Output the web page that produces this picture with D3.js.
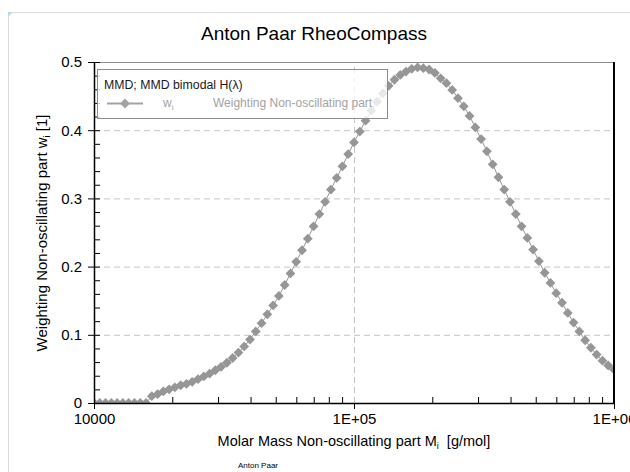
<!DOCTYPE html>
<html>
<head>
<meta charset="utf-8">
<script src="https://cdn.jsdelivr.net/npm/d3@7"></script>
<style>
  body { margin: 0; background: #fff; }
  svg { display: block; font-family: "Liberation Sans", Arial, sans-serif; }
  .axis path, .axis line { stroke: #000; }
  .axis text { font-size: 15px; fill: #000; }
  .grid line { stroke: #c4c4c4; stroke-dasharray: 6,4; }
  .grid path { display: none; }
</style>
</head>
<body>
<svg id="chart" width="630" height="472"></svg>
<script>
// molar mass M_i [g/mol]
const molarMass = [
  10000, 10525, 11078, 11659, 12271, 12915, 13594, 14307, 15058, 15849,
  16681, 17557, 18478, 19448, 20469, 21544, 22675, 23865, 25119, 26437,
  27826, 29286, 30824, 32442, 34145, 35938, 37824, 39811, 41900, 44100,
  46416, 48853, 51417, 54117, 56958, 59948, 63096, 66408, 69894, 73564,
  77426, 81491, 85770, 90273, 95012,
  100000, 105250, 110780, 116590, 122710, 129150, 135940, 143070, 150580, 158490,
  166810, 175570, 184780, 194480, 204690, 215440, 226750, 238650, 251190, 264370,
  278260, 292860, 308240, 324420, 341450, 359380, 378240, 398110, 419000, 441000,
  464160, 488530, 514170, 541170, 569580, 599480, 630960, 664080, 698940, 735640,
  774260, 814910, 857700, 902730, 950120,
  1000000
];
// weighting w_i [1]
const weighting = [
  0, 0, 0, 0, 0, 0, 0, 0, 0, 0,
  0.010, 0.013, 0.017, 0.020, 0.023, 0.026, 0.028, 0.031, 0.035, 0.039,
  0.043, 0.048, 0.053, 0.059, 0.066, 0.074, 0.083, 0.093, 0.105, 0.117,
  0.130, 0.143, 0.157, 0.173, 0.190, 0.207, 0.224, 0.241, 0.259, 0.277,
  0.295, 0.313, 0.330, 0.347, 0.365, 0.382, 0.398, 0.414, 0.429, 0.442,
  0.454, 0.465, 0.474, 0.481, 0.486, 0.490, 0.492, 0.491, 0.489, 0.484,
  0.476, 0.469, 0.459, 0.447, 0.435, 0.421, 0.404, 0.387, 0.369, 0.350,
  0.331, 0.313, 0.295, 0.277, 0.259, 0.242, 0.225, 0.208, 0.191, 0.176,
  0.161, 0.147, 0.132, 0.118, 0.105, 0.092, 0.081, 0.071, 0.062, 0.055,
  0.049
];

const xMajorTicks = [1e4, 1e5, 1e6];
const xTickLabels = ["10000", "1E+05", "1E+06"];
const xMinorTicks = [2e4, 3e4, 4e4, 5e4, 6e4, 7e4, 8e4, 9e4, 2e5, 3e5, 4e5, 5e5, 6e5, 7e5, 8e5, 9e5];
const yMajorTicks = [0, 0.1, 0.2, 0.3, 0.4, 0.5];
const yTickLabels = ["0", "0.1", "0.2", "0.3", "0.4", "0.5"];
const yMinorTicks = d3.range(0, 0.501, 0.02);

const margin = { top: 62, right: 16, bottom: 69, left: 94 };
const svg = d3.select("#chart");
const width = svg.attr("width") - margin.left - margin.right;
const height = svg.attr("height") - margin.top - margin.bottom;

const data = molarMass.map((m, i) => ({ m, w: weighting[i] }));

const xScale = d3.scaleLog().domain([1e4, 1e6]).range([0, width]);
const yScale = d3.scaleLinear().domain([0, 0.5]).range([height, 0]);

const markerColor = "#969696";
const legendColor = "#a3a3a3";

// page frame
svg.append("path")
  .attr("d", "M8.5,472V12.5H630")
  .attr("fill", "none")
  .attr("stroke", "#dcdcdc");
svg.append("path").attr("d", "M8,12h5l-5,5z").attr("fill", "#bcd9ea");

svg.append("text")
  .attr("x", 314).attr("y", 40)
  .attr("text-anchor", "middle")
  .attr("font-size", 19)
  .text("Anton Paar RheoCompass");

const g = svg.append("g").attr("transform", `translate(${margin.left},${margin.top})`);

g.append("clipPath").attr("id", "plot-clip")
  .append("rect").attr("width", width).attr("height", height);

// grid
g.append("g").attr("class", "grid")
  .call(d3.axisLeft(yScale).tickValues([0.1, 0.2, 0.3, 0.4]).tickSize(-width).tickFormat(""));
g.append("g").attr("class", "grid")
  .attr("transform", `translate(0,${height})`)
  .call(d3.axisBottom(xScale).tickValues([1e5]).tickSize(-height).tickFormat(""));

// top border
g.append("line").attr("x1", 0).attr("x2", width).attr("y1", 0.5).attr("y2", 0.5)
  .attr("stroke", "#8c8c8c");

// curve
const plot = g.append("g").attr("clip-path", "url(#plot-clip)");
plot.append("path")
  .datum(data)
  .attr("fill", "none")
  .attr("stroke", markerColor)
  .attr("stroke-width", 1)
  .attr("d", d3.line().x((d) => xScale(d.m)).y((d) => yScale(d.w)));

const diamond = d3.symbol(d3.symbolSquare, 48);
plot.selectAll(".marker")
  .data(data)
  .join("path")
  .attr("class", "marker")
  .attr("d", diamond)
  .attr("fill", markerColor)
  .attr("transform", (d) => `translate(${xScale(d.m)},${yScale(d.w)}) rotate(45)`);

// axes
function drawYAxis(el) {
  el.append("g").attr("class", "axis")
    .call(d3.axisLeft(yScale).tickValues(yMinorTicks).tickSize(-6).tickFormat(""))
    .call((a) => a.select(".domain").remove());
  el.append("g").attr("class", "axis")
    .call(d3.axisLeft(yScale).tickValues(yMajorTicks).tickSizeInner(6).tickSizeOuter(0)
      .tickPadding(6).tickFormat((d, i) => yTickLabels[i]))
    .call((a) => a.select(".domain").attr("stroke-width", 1.5));
}

function drawXAxis(el) {
  const axisG = el.append("g").attr("transform", `translate(0,${height})`);
  axisG.append("g").attr("class", "axis")
    .call(d3.axisBottom(xScale).tickValues(xMinorTicks).tickSize(-6).tickFormat(""))
    .call((a) => a.select(".domain").remove());
  axisG.append("g").attr("class", "axis")
    .call(d3.axisBottom(xScale).tickValues(xMajorTicks).tickSizeInner(6).tickSizeOuter(0)
      .tickPadding(4).tickFormat((d, i) => xTickLabels[i]))
    .call((a) => a.select(".domain").attr("stroke-width", 1.5));
}

drawYAxis(g);
drawXAxis(g);

// right border
g.append("line").attr("x1", width).attr("x2", width).attr("y1", 0).attr("y2", height)
  .attr("stroke", "#000").attr("stroke-width", 2);

// axis titles
const xTitle = svg.append("text")
  .attr("x", 354).attr("y", 446)
  .attr("text-anchor", "middle")
  .attr("font-size", 14.5);
xTitle.append("tspan").text("Molar Mass Non-oscillating part M");
xTitle.append("tspan").attr("font-size", 9).attr("dy", 3).text("i");
xTitle.append("tspan").attr("dy", -3).text("\u00a0 [g/mol]");

const yTitle = svg.append("text")
  .attr("transform", "translate(47,233) rotate(-90)")
  .attr("text-anchor", "middle")
  .attr("font-size", 15);
yTitle.append("tspan").text("Weighting Non-oscillating part w");
yTitle.append("tspan").attr("font-size", 9).attr("dy", 3).text("i");
yTitle.append("tspan").attr("dy", -3).text(" [1]");

// legend
const legend = svg.append("g").attr("transform", "translate(97,69)");
legend.append("rect")
  .attr("x", 0.5).attr("y", 0.5).attr("width", 290).attr("height", 49)
  .attr("fill", "#fff").attr("fill-opacity", 0.78)
  .attr("stroke", "#8c8c8c");
legend.append("text").attr("x", 7).attr("y", 20).attr("font-size", 12.3).attr("fill", "#1a1a1a")
  .text("MMD; MMD bimodal H(\u03bb)");
legend.append("line").attr("x1", 10).attr("x2", 46).attr("y1", 34.5).attr("y2", 34.5)
  .attr("stroke", legendColor).attr("stroke-width", 2);
legend.append("path").attr("d", diamond)
  .attr("fill", legendColor)
  .attr("transform", "translate(28,34.5) rotate(45)");
const wLabel = legend.append("text").attr("x", 66).attr("y", 38).attr("font-size", 12).attr("fill", legendColor);
wLabel.append("tspan").text("w");
wLabel.append("tspan").attr("font-size", 8).attr("dy", 3).text("i");
legend.append("text").attr("x", 116).attr("y", 38).attr("font-size", 12).attr("fill", legendColor)
  .text("Weighting Non-oscillating part");

svg.append("text")
  .attr("x", 258).attr("y", 468)
  .attr("text-anchor", "middle")
  .attr("font-size", 8)
  .text("Anton Paar");
</script>
</body>
</html>
